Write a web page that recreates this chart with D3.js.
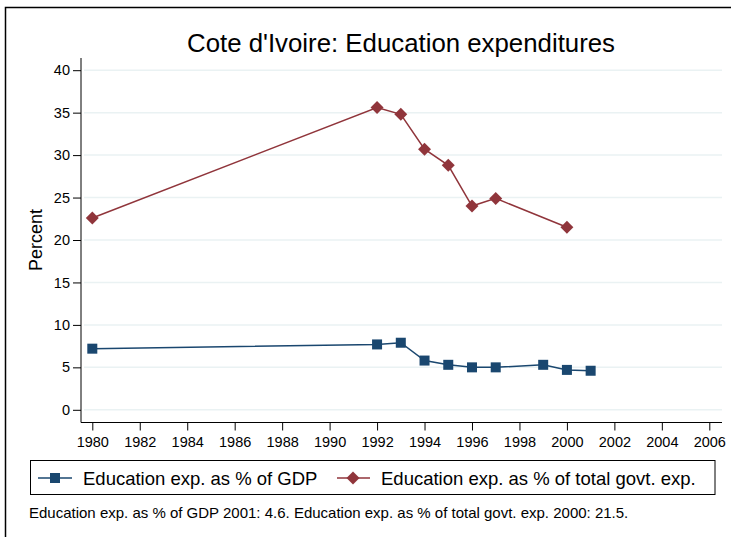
<!DOCTYPE html>
<html>
<head>
<meta charset="utf-8">
<script src="https://cdn.jsdelivr.net/npm/d3@7"></script>
<style>
  body { margin: 0; background: #fff; }
  svg { font-family: "Liberation Sans", Arial, sans-serif; }
</style>
</head>
<body>
<div class="chart"></div>
<script>
// chart data
var gdpYears = [1980, 1992, 1993, 1994, 1995, 1996, 1997, 1999, 2000, 2001];
var gdpValues = [7.2, 7.7, 7.9, 5.8, 5.3, 5.0, 5.0, 5.3, 4.7, 4.6];
var govYears = [1980, 1992, 1993, 1994, 1995, 1996, 1997, 2000];
var govValues = [22.6, 35.6, 34.8, 30.7, 28.8, 24.0, 24.9, 21.5];
var xTicks = d3.range(1980, 2007, 2);
var yTicks = [0, 5, 10, 15, 20, 25, 30, 35, 40];
var seriesNames = ["Education exp. as % of GDP", "Education exp. as % of total govt. exp."];
var footnote = "Education exp. as % of GDP 2001: 4.6. Education exp. as % of total govt. exp. 2000: 21.5.";

var svgWidth = 731;
var svgHeight = 537;
var blue = "#1a476f";
var red = "#90353b";

var svg = d3.select(".chart")
  .append("svg")
  .attr("width", svgWidth)
  .attr("height", svgHeight);

// outer frame (only top and left are visible)
svg.append("path")
  .attr("d", "M5.5,540 L5.5,7.5 L740,7.5")
  .attr("fill", "none")
  .attr("stroke", "#000")
  .attr("stroke-width", 1.5);

var x = d3.scaleLinear().domain([1980, 2006]).range([92.3, 709.3]);
var y = d3.scaleLinear().domain([0, 40]).range([409.8, 70.2]);
var plotLeft = 81, plotRight = 722, axisY = 422.5;

// grid
svg.append("g").selectAll("line")
  .data(yTicks)
  .enter()
  .append("line")
  .attr("x1", plotLeft + 3)
  .attr("x2", plotRight)
  .attr("y1", d => y(d))
  .attr("y2", d => y(d))
  .attr("stroke", "#eaf2f3")
  .attr("stroke-width", 1.5);

// axes
var leftAxis = d3.axisLeft(y).tickValues(yTicks).tickSize(8).tickPadding(3);
var bottomAxis = d3.axisBottom(x).tickValues(xTicks).tickFormat(d3.format("d")).tickSize(8).tickPadding(6);

var gy = svg.append("g")
  .attr("transform", `translate(${plotLeft},0)`)
  .call(leftAxis);
gy.select(".domain").attr("d", `M0,58V${axisY}`);

var gx = svg.append("g")
  .attr("transform", `translate(0,${axisY})`)
  .call(bottomAxis);
gx.select(".domain").attr("d", `M${plotLeft},0H${plotRight}`);

svg.selectAll(".tick text")
  .attr("font-size", 14.5)
  .attr("fill", "#000")
  .attr("font-family", "Liberation Sans, Arial, sans-serif");
svg.selectAll(".tick line").attr("stroke", "#000");
svg.selectAll(".domain").attr("stroke", "#000");

// axis title
svg.append("text")
  .attr("transform", "translate(42,240) rotate(-90)")
  .attr("text-anchor", "middle")
  .attr("font-size", 18)
  .text("Percent");

// title
svg.append("text")
  .attr("x", 401)
  .attr("y", 51.5)
  .attr("text-anchor", "middle")
  .attr("font-size", 25.8)
  .text("Cote d'Ivoire: Education expenditures");

var line = d3.line().x(d => x(d[0])).y(d => y(d[1]));
var gdpData = gdpYears.map((d, i) => [d, gdpValues[i]]);
var govData = govYears.map((d, i) => [d, govValues[i]]);

svg.append("path")
  .datum(govData)
  .attr("d", line)
  .attr("fill", "none")
  .attr("stroke", red)
  .attr("stroke-width", 1.5);

svg.append("path")
  .datum(gdpData)
  .attr("d", line)
  .attr("fill", "none")
  .attr("stroke", blue)
  .attr("stroke-width", 1.5);

var diamond = d3.symbol().type(d3.symbolSquare).size(84);
svg.append("g").selectAll("path")
  .data(govData)
  .enter()
  .append("path")
  .attr("d", diamond)
  .attr("transform", d => `translate(${x(d[0])},${y(d[1])}) rotate(45)`)
  .attr("fill", red);

svg.append("g").selectAll("rect")
  .data(gdpData)
  .enter()
  .append("rect")
  .attr("x", d => x(d[0]) - 5)
  .attr("y", d => y(d[1]) - 5)
  .attr("width", 10)
  .attr("height", 10)
  .attr("fill", blue);

// legend
svg.append("rect")
  .attr("x", 30.5)
  .attr("y", 460.5)
  .attr("width", 684.5)
  .attr("height", 34)
  .attr("fill", "#fff")
  .attr("stroke", "#000")
  .attr("stroke-width", 1);

var legY = 478;
svg.append("line")
  .attr("x1", 38).attr("x2", 72).attr("y1", legY).attr("y2", legY)
  .attr("stroke", blue).attr("stroke-width", 1.5);
svg.append("rect")
  .attr("x", 50).attr("y", legY - 5).attr("width", 10).attr("height", 10)
  .attr("fill", blue);
svg.append("text")
  .attr("x", 83).attr("y", legY + 7)
  .attr("font-size", 18.5)
  .text(seriesNames[0]);

svg.append("line")
  .attr("x1", 337).attr("x2", 370).attr("y1", legY).attr("y2", legY)
  .attr("stroke", red).attr("stroke-width", 1.5);
svg.append("path")
  .attr("d", diamond)
  .attr("transform", `translate(353,${legY}) rotate(45)`)
  .attr("fill", red);
svg.append("text")
  .attr("x", 381).attr("y", legY + 7)
  .attr("font-size", 18.5)
  .text(seriesNames[1]);

// note
svg.append("text")
  .attr("x", 29)
  .attr("y", 517.5)
  .attr("font-size", 15)
  .text(footnote);
</script>
</body>
</html>
